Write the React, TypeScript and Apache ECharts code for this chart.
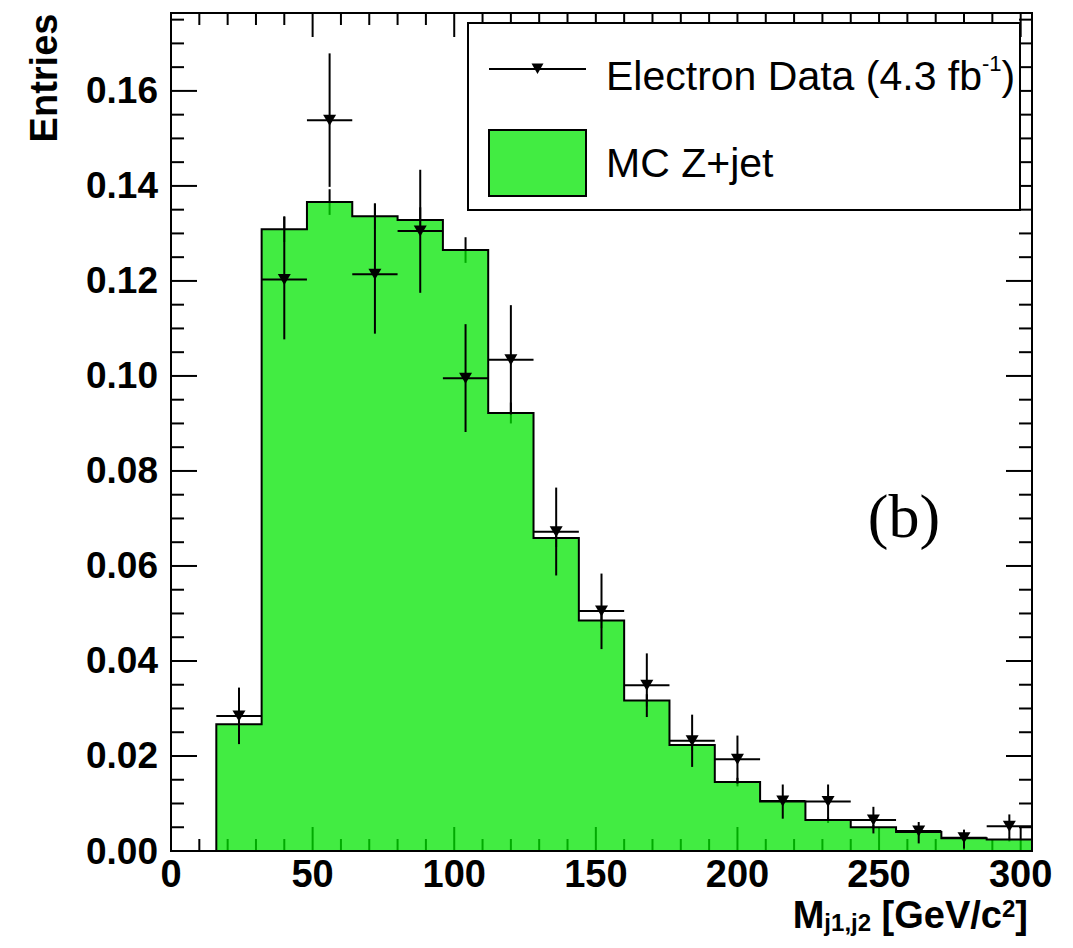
import React, { useEffect, useRef } from "react";
import * as echarts from "echarts";

// ---- data ----
const binEdges = [16, 32, 48, 64, 80, 96, 112, 128, 144, 160, 176, 192, 208, 224, 240, 256, 272, 288, 304];
const mcValues = [0.0267, 0.1309, 0.1366, 0.1336, 0.1328, 0.1265, 0.0922, 0.0659, 0.0485, 0.0317, 0.0223, 0.0145, 0.0104, 0.0065, 0.005, 0.004, 0.0027, 0.0024];
const mcErrors = [0.0012, 0.0027, 0.0027, 0.0027, 0.0027, 0.0027, 0.0022, 0.0019, 0.0016, 0.0013, 0.0011, 0.0009, 0.0007, 0.0006, 0.0005, 0.0005, 0.0004, 0.0004];
const dataValues = [0.0284, 0.1203, 0.1538, 0.1214, 0.1305, 0.0995, 0.1034, 0.0672, 0.0505, 0.0349, 0.0232, 0.0193, 0.0105, 0.0104, 0.0065, 0.0042, 0.0028, 0.0052];
const dataUpper = [0.0344, 0.1335, 0.1679, 0.1363, 0.1434, 0.1109, 0.1149, 0.0765, 0.0584, 0.0416, 0.0287, 0.0243, 0.014, 0.014, 0.0093, 0.0061, 0.0045, 0.0077];
const dataLower = [0.0225, 0.1077, 0.1398, 0.1089, 0.1175, 0.0882, 0.0919, 0.058, 0.0425, 0.0282, 0.0177, 0.0142, 0.0068, 0.0066, 0.0037, 0.0016, 0.0005, 0.0027];

const X_MIN = 0;
const X_MAX = 304;
const X_MAJOR = 50;
const X_MINOR = 10;
const Y_MIN = 0;
const Y_MAX = 0.1764;
const Y_MAJOR = 0.02;
const Y_MINOR = 0.005;

const legendData = "Electron Data (4.3 fb{sup|-1})";
const legendMC = "MC Z+jet";
const yTitle = "Entries";
const xTitle = "{m|M}{s|j1,j2}{m| [GeV/c}{p|2}{m|]}";
const panelLabel = "(b)";

// ---- style ----
const SANS = "'Liberation Sans', Arial, Helvetica, sans-serif";
const SERIF = "'Liberation Serif', 'Times New Roman', serif";
const MC_FILL = "rgba(0, 230, 0, 0.74)";
const GRID = { left: 171, top: 13, width: 861, height: 838 };

const isMultiple = (v: number, step: number) => Math.abs(v / step - Math.round(v / step)) < 1e-6;

// tick positions along each axis (minor steps; majors are the multiples of the major step)
const xTickValues: number[] = [];
for (let k = 0; X_MIN + k * X_MINOR <= X_MAX + 1e-9; k++) xTickValues.push(X_MIN + k * X_MINOR);
const yTickValues: number[] = [];
for (let k = 0; Y_MIN + k * Y_MINOR <= Y_MAX + 1e-9; k++) yTickValues.push(+(Y_MIN + k * Y_MINOR).toFixed(4));

export default function App() {
  const ref = useRef<HTMLDivElement>(null);

  useEffect(() => {
    if (!ref.current) return;
    const chart = echarts.init(ref.current, undefined, { renderer: "svg" });

    const centers = dataValues.map((_, i) => (binEdges[i] + binEdges[i + 1]) / 2);
    const lineStyle = { stroke: "#000", lineWidth: 2 };

    const option: any = {
      animation: false,
      backgroundColor: "#fff",
      grid: { ...GRID, show: false },
      xAxis: {
        type: "value",
        min: X_MIN,
        max: X_MAX,
        interval: X_MAJOR,
        axisLine: { show: false },
        splitLine: { show: false },
        axisTick: { show: false },
        axisLabel: {
          margin: 8,
          fontSize: 38,
          lineHeight: 30,
          fontWeight: "bold",
          fontFamily: SANS,
          color: "#000",
          formatter: (v: number) => (isMultiple(v, X_MAJOR) ? String(Math.round(v)) : ""),
        },
      },
      yAxis: {
        type: "value",
        min: Y_MIN,
        max: Y_MAX,
        interval: Y_MAJOR,
        axisLine: { show: false },
        splitLine: { show: false },
        axisTick: { show: false },
        axisLabel: {
          margin: 13,
          fontSize: 37,
          fontWeight: "bold",
          fontFamily: SANS,
          color: "#000",
          formatter: (v: number) => (isMultiple(v, Y_MAJOR) ? v.toFixed(2) : ""),
        },
      },
      series: [
        {
          // inward ticks on all four sides of the frame (drawn under the MC fill)
          type: "custom",
          name: "ticks",
          silent: true,
          z: 1,
          data: [[X_MIN, Y_MIN]],
          encode: { x: 0, y: 1 },
          renderItem: (_params: any, api: any) => {
            const children: any[] = [];
            xTickValues.forEach((xv) => {
              const len = isMultiple(xv, X_MAJOR) ? 24 : 12;
              const b = api.coord([xv, Y_MIN]);
              const t = api.coord([xv, Y_MAX]);
              children.push({ type: "line", shape: { x1: b[0], y1: b[1], x2: b[0], y2: b[1] - len }, style: lineStyle });
              children.push({ type: "line", shape: { x1: t[0], y1: t[1], x2: t[0], y2: t[1] + len }, style: lineStyle });
            });
            yTickValues.forEach((yv) => {
              const len = isMultiple(yv, Y_MAJOR) ? 26 : 13;
              const l = api.coord([X_MIN, yv]);
              const r = api.coord([X_MAX, yv]);
              children.push({ type: "line", shape: { x1: l[0], y1: l[1], x2: l[0] + len, y2: l[1] }, style: lineStyle });
              children.push({ type: "line", shape: { x1: r[0], y1: r[1], x2: r[0] - len, y2: r[1] }, style: lineStyle });
            });
            return { type: "group", children };
          },
        },
        {
          type: "custom",
          name: "MC Z+jet",
          silent: true,
          z: 2,
          data: [[binEdges[0], 0]],
          encode: { x: 0, y: 1 },
          renderItem: (_params: any, api: any) => {
            const pts: number[][] = [];
            pts.push(api.coord([binEdges[0], 0]));
            mcValues.forEach((v, i) => {
              pts.push(api.coord([binEdges[i], v]));
              pts.push(api.coord([binEdges[i + 1], v]));
            });
            pts.push(api.coord([binEdges[binEdges.length - 1], 0]));
            const errs = mcValues.map((v, i) => {
              const c = (binEdges[i] + binEdges[i + 1]) / 2;
              const a = api.coord([c, v - mcErrors[i]]);
              const b = api.coord([c, v + mcErrors[i]]);
              return { type: "line", shape: { x1: a[0], y1: a[1], x2: b[0], y2: b[1] }, style: lineStyle };
            });
            return {
              type: "group",
              children: [
                ...errs,
                { type: "polygon", shape: { points: pts }, style: { fill: MC_FILL, stroke: null } },
                { type: "polyline", shape: { points: pts }, style: { fill: null, stroke: "#000", lineWidth: 2 } },
              ],
            };
          },
        },
        {
          type: "custom",
          name: "Electron Data errors",
          silent: true,
          z: 4,
          data: dataValues.map((v, i) => [centers[i], v, dataLower[i], dataUpper[i], binEdges[i], binEdges[i + 1]]),
          encode: { x: 0, y: 1 },
          renderItem: (_params: any, api: any) => {
            const c = api.value(0);
            const v = api.value(1);
            const lo = api.value(2);
            const hi = api.value(3);
            const x0 = api.value(4);
            const x1 = api.value(5);
            const h0 = api.coord([x0, v]);
            const h1 = api.coord([x1, v]);
            const v0 = api.coord([c, lo]);
            const v1 = api.coord([c, hi]);
            return {
              type: "group",
              children: [
                { type: "line", shape: { x1: h0[0], y1: h0[1], x2: h1[0], y2: h1[1] }, style: lineStyle },
                { type: "line", shape: { x1: v0[0], y1: v0[1], x2: v1[0], y2: v1[1] }, style: lineStyle },
              ],
            };
          },
        },
        {
          type: "scatter",
          name: "Electron Data",
          silent: true,
          z: 5,
          symbol: "path://M0,0L12,0L6,10Z",
          symbolSize: [13, 11],
          itemStyle: { color: "#000", opacity: 1 },
          data: dataValues.map((v, i) => [centers[i], v]),
        },
      ],
      graphic: {
        elements: [
          // frame
          {
            type: "rect",
            z: 100,
            silent: true,
            shape: { x: GRID.left, y: GRID.top, width: GRID.width, height: GRID.height },
            style: { fill: null, stroke: "#000", lineWidth: 2 },
          },
          // legend box
          {
            type: "rect",
            z: 100,
            silent: true,
            shape: { x: 468, y: 23, width: 552, height: 187 },
            style: { fill: "#fff", stroke: "#000", lineWidth: 2 },
          },
          {
            type: "line",
            z: 101,
            silent: true,
            shape: { x1: 489, y1: 69, x2: 586, y2: 69 },
            style: { stroke: "#000", lineWidth: 2 },
          },
          {
            type: "polygon",
            z: 101,
            silent: true,
            shape: { points: [[531.5, 63.5], [543.5, 63.5], [537.5, 74]] },
            style: { fill: "#000" },
          },
          {
            type: "text",
            z: 101,
            silent: true,
            x: 606,
            y: 76,
            style: {
              text: legendData,
              fontSize: 41,
              fontFamily: SANS,
              fill: "#000",
              lineHeight: 48,
              align: "left",
              verticalAlign: "middle",
              rich: {
                sup: { fontSize: 22, fontFamily: SANS, fill: "#000", lineHeight: 23, verticalAlign: "top" },
              },
            },
          },
          {
            type: "rect",
            z: 101,
            silent: true,
            shape: { x: 489, y: 130, width: 97, height: 66 },
            style: { fill: MC_FILL, stroke: "#000", lineWidth: 2 },
          },
          {
            type: "text",
            z: 101,
            silent: true,
            x: 606,
            y: 163,
            style: {
              text: legendMC,
              fontSize: 41,
              fontFamily: SANS,
              fill: "#000",
              align: "left",
              verticalAlign: "middle",
            },
          },
          // panel label
          {
            type: "text",
            z: 101,
            silent: true,
            x: 904,
            y: 516,
            style: {
              text: panelLabel,
              fontSize: 62,
              fontFamily: SERIF,
              fill: "#000",
              align: "center",
              verticalAlign: "middle",
            },
          },
          // y title
          {
            type: "text",
            z: 101,
            silent: true,
            x: 44,
            y: 78,
            rotation: Math.PI / 2,
            style: {
              text: yTitle,
              fontSize: 38,
              fontWeight: "bold",
              fontFamily: SANS,
              fill: "#000",
              align: "center",
              verticalAlign: "middle",
            },
          },
          // x title
          {
            type: "text",
            z: 101,
            silent: true,
            x: 1028,
            y: 915,
            style: {
              text: xTitle,
              fill: "#000",
              align: "right",
              verticalAlign: "middle",
              rich: {
                m: { fontSize: 38, fontWeight: "bold", fontFamily: SANS, fill: "#000", lineHeight: 38 },
                s: { fontSize: 24, fontWeight: "bold", fontFamily: SANS, fill: "#000", lineHeight: 8, verticalAlign: "bottom" },
                p: { fontSize: 24, fontWeight: "bold", fontFamily: SANS, fill: "#000", lineHeight: 10, verticalAlign: "top" },
              },
            },
          },
        ],
      },
    };

    chart.setOption(option);
    return () => chart.dispose();
  }, []);

  return (
    <div
      ref={ref}
      style={{ position: "fixed", left: 0, top: 0, width: 1073, height: 948, background: "#fff" }}
    />
  );
}
